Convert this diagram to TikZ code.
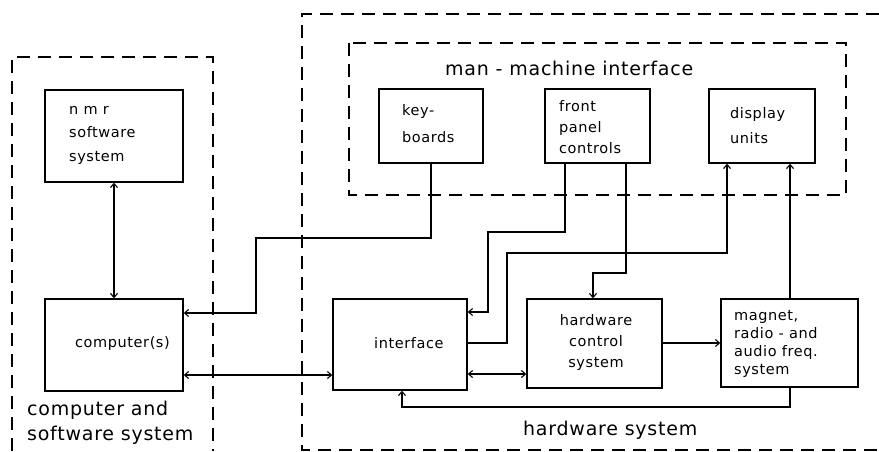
\documentclass[tikz,border=0pt]{standalone}
\usepackage{fontspec}
\setmainfont{DejaVu Sans}[LetterSpace=4]
\usetikzlibrary{arrows.meta}
\begin{document}
\begin{tikzpicture}[x=1pt,y=-1pt,
  box/.style={draw, line width=1.5pt, inner sep=0pt},
  grp/.style={draw, dash pattern=on 13pt off 8pt, line width=1.2pt},
  conn/.style={line width=1.1pt},
  arr/.style={-{Straight Barb[length=4pt,width=7pt]}},
  dbl/.style={{Straight Barb[length=4pt,width=7pt]}-{Straight Barb[length=4pt,width=7pt]}},
  txt/.style={inner sep=0pt, font=\fontsize{14.5}{22}\selectfont},
  big/.style={inner sep=0pt, font=\fontsize{19}{25}\selectfont}
]
\useasboundingbox (0,0) rectangle (879,451);
% dashed groups
\draw[grp] (12,451) -- (12,57) -- (213,57) -- (213,451);
\draw[grp] (879,14) -- (302,14) -- (302,450) -- (879,450);
\draw[grp] (349,43) rectangle (846,195);
% boxes
\node[box, minimum width=138pt, minimum height=92pt] (nmr) at (114,136) {};
\node[box, minimum width=138pt, minimum height=92pt] (comp) at (114,345) {};
\node[box, minimum width=104pt, minimum height=74pt] (kb) at (431,126) {};
\node[box, minimum width=105pt, minimum height=74pt] (fp) at (597.5,126) {};
\node[box, minimum width=106pt, minimum height=74pt] (disp) at (762,126) {};
\node[box, minimum width=134pt, minimum height=91pt] (intf) at (400,344.5) {};
\node[box, minimum width=135pt, minimum height=89pt] (hcs) at (594.5,343.5) {};
\node[box, minimum width=137pt, minimum height=88pt] (mag) at (789.5,343) {};
% texts
\node[txt, anchor=west, align=left, font=\fontsize{14.5}{23.5}\selectfont] (nmrtxt) at (69,135) {n m r\\software\\system};
\node[txt, anchor=west] (comptxt) at (75,343) {computer(s)};
\node[txt, anchor=west] (intftxt) at (374,343) {interface};
\node[txt, anchor=west, align=left, font=\fontsize{14.5}{27}\selectfont] (kbtxt) at (402,124) {key-\\boards};
\node[txt, anchor=west, align=left, font=\fontsize{14.5}{21}\selectfont] (fptxt) at (559,127) {front\\panel\\controls};
\node[txt, anchor=west, align=left, font=\fontsize{14.5}{25}\selectfont] (disptxt) at (730,126) {display\\units};
\node[txt, align=center, font=\fontsize{14.5}{21}\selectfont] (hcstxt) at (596,342) {hardware\\control\\system};
\node[txt, anchor=west, align=left, font=\fontsize{14.5}{18}\selectfont] (magtxt) at (734,344) {magnet,\\radio - and\\audio freq.\\system};
\node[big, anchor=west, align=left] (cstxt) at (27,423) {computer and\\software system};
\node[big, anchor=west] (hwtxt) at (523,430) {hardware system};
\node[big, anchor=west] (mmitxt) at (445,68) {man - machine interface};
% connectors
\draw[conn, dbl] (nmr.south) -- (comp.north);
\draw[conn, arr] (kb.south) -- (431,238) -- (256,238) -- (256,313) -- (comp.east |- 0,313);
\draw[conn, dbl] (comp.east |- 0,375) -- (intf.west |- 0,375);
\draw[conn, arr] (fp.south -| 565,0) -- (565,232) -- (488,232) -- (488,312) -- (intf.east |- 0,312);
\draw[conn, arr] (fp.south -| 626,0) -- (626,273) -- (593,273) -- (hcs.north -| 593,0);
\draw[conn, arr] (intf.east |- 0,343) -- (507,343) -- (507,253) -- (727,253) -- (disp.south -| 727,0);
\draw[conn, arr] (mag.north -| 790,0) -- (disp.south -| 790,0);
\draw[conn, dbl] (intf.east |- 0,374) -- (hcs.west |- 0,374);
\draw[conn, arr] (hcs.east |- 0,343) -- (mag.west |- 0,343);
\draw[conn, arr] (mag.south -| 790,0) -- (790,407) -- (402,407) -- (intf.south -| 402,0);
\end{tikzpicture}
\end{document}
